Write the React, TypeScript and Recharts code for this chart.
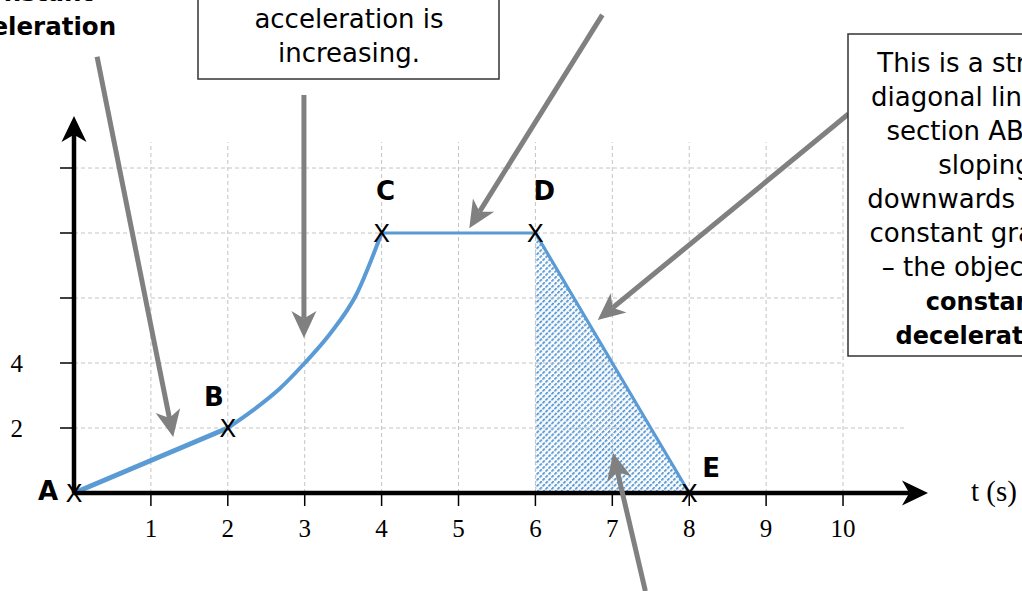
import { ComposedChart, Line, Area, XAxis, YAxis, ReferenceLine, ReferenceDot } from 'recharts'

// velocity-time graph, section by section
const abTimes = [0, 1, 2]
const abVelocity = [0, 1, 2]
const bcTimes = [2, 2.33, 2.67, 3, 3.33, 3.67, 4]
const bcVelocity = [2, 2.55, 3.2, 4.0, 4.9, 6.1, 8]
const cdeTimes = [4, 6, 8]
const cdeVelocity = [8, 8, 0]
const shadedTimes = [6, 8]
const shadedVelocity = [8, 0]

const xTicks = [1, 2, 3, 4, 5, 6, 7, 8, 9, 10]
const yTicks = [2, 4, 6, 8, 10]
const yTickLabels = ['2', '4', '', '', '']

const pointNames = ['A', 'B', 'C', 'D', 'E']
const pointTimes = [0, 2, 4, 6, 8]
const pointVelocity = [0, 2, 8, 8, 0]

// callout arrows, in axis units: [fromT, fromV, toT, toV]
const callouts = [
  [0.3, 13.42, 1.29, 1.72],
  [2.99, 12.25, 2.99, 4.77],
  [6.87, 14.71, 5.14, 8.15],
  [10.07, 11.66, 6.81, 5.32],
  [7.43, -3.02, 7.01, 1.23],
]

const X_MAX = 11.105
const Y_MAX = 11.6
const BLUE = '#5b9bd5'
const GREY = '#808080'
const SANS = '"DejaVu Sans", sans-serif'
const SERIF = '"Liberation Serif", "Times New Roman", serif'

const rows = new Map<number, any>()
const put = (ts: number[], vs: number[], key: string) =>
  ts.forEach((t, i) => {
    const r = rows.get(t) || { t }
    r[key] = vs[i]
    rows.set(t, r)
  })
put(abTimes, abVelocity, 'ab')
put(bcTimes, bcVelocity, 'bc')
put(cdeTimes, cdeVelocity, 'cde')
put(shadedTimes, shadedVelocity, 'shade')
const data = [...rows.values()].sort((a, b) => a.t - b.t)

const labelOffset: Record<string, [number, number]> = {
  A: [-26, 7],
  B: [-14, -22],
  C: [4, -33],
  D: [9, -33],
  E: [22, -16],
}

function arrow(p: any, color: string, width: number, len: number, half: number) {
  const { x1, y1, x2, y2 } = p
  const dx = x2 - x1
  const dy = y2 - y1
  const d = Math.hypot(dx, dy) || 1
  const ux = dx / d
  const uy = dy / d
  const bx = x2 - ux * len
  const by = y2 - uy * len
  const nx = x2 - ux * len * 0.72
  const ny = y2 - uy * len * 0.72
  const pts = [
    [x2, y2],
    [bx - uy * half, by + ux * half],
    [nx, ny],
    [bx + uy * half, by - ux * half],
  ]
  return (
    <g>
      <line x1={x1} y1={y1} x2={nx} y2={ny} stroke={color} strokeWidth={width} />
      <polygon points={pts.map((q) => q.join(',')).join(' ')} fill={color} />
    </g>
  )
}

function PointMark(p: any) {
  const { cx, cy, name } = p
  const [ox, oy] = labelOffset[name]
  return (
    <g>
      <text x={cx} y={cy + 9} textAnchor="middle" fontSize={25} fontFamily={SANS} fill="#000">
        X
      </text>
      <text x={cx + ox} y={cy + oy} textAnchor="middle" fontSize={26} fontWeight="bold" fontFamily={SANS} fill="#000">
        {name}
      </text>
    </g>
  )
}

const rightBox = [
  'This is a straight',
  'diagonal line, like',
  'section AB, but',
  'sloping',
  'downwards with a',
  'constant gradient',
  '– the object has',
]
const rightBoxBold = ['constant', 'deceleration.']
const topBox = ['The line is curving', 'acceleration is', 'increasing.']

export default function App() {
  return (
    <div style={{ position: 'relative', width: 1022, height: 591, overflow: 'hidden', background: '#fff' }}>
      <style>{'body{margin:0}'}</style>
      <svg width={0} height={0} style={{ position: 'absolute' }}>
        <defs>
          <pattern id="hatch" patternUnits="userSpaceOnUse" width={4.2} height={4.2} patternTransform="rotate(45)">
            <line x1={1} y1={0} x2={1} y2={4.2} stroke={BLUE} strokeWidth={1.9} strokeDasharray="2.4 0.9" />
          </pattern>
        </defs>
      </svg>
      <ComposedChart width={1022} height={591} data={data} margin={{ top: 116, right: 94, bottom: 68, left: 0 }}>
        <XAxis
          type="number"
          dataKey="t"
          domain={[0, X_MAX]}
          ticks={xTicks}
          axisLine={false}
          tickLine={{ stroke: '#000', strokeWidth: 1.5 }}
          tickSize={13}
          tickMargin={13}
          height={30}
          fontSize={25}
          tick={{ fontSize: 25, fontFamily: SERIF, fill: '#000' }}
        />
        <YAxis
          type="number"
          domain={[0, Y_MAX]}
          ticks={yTicks}
          width={74}
          axisLine={false}
          tickLine={{ stroke: '#000', strokeWidth: 1.5 }}
          tickSize={14}
          tickMargin={37}
          fontSize={25}
          tickFormatter={(v: number) => yTickLabels[yTicks.indexOf(v)] ?? ''}
          tick={{ fontSize: 25, fontFamily: SERIF, fill: '#000' }}
        />
        {xTicks.map((t) => (
          <ReferenceLine
            key={'gx' + t}
            segment={[{ x: t, y: 0 }, { x: t, y: 10.8 }]}
            stroke="#c4c4c4"
            strokeDasharray="4 3"
            ifOverflow="visible"
          />
        ))}
        {yTicks.map((v) => (
          <ReferenceLine
            key={'gy' + v}
            segment={[{ x: 0, y: v }, { x: v === 2 ? 10.8 : 10, y: v }]}
            stroke="#c4c4c4"
            strokeDasharray="4 3"
            ifOverflow="visible"
          />
        ))}
        <Area
          dataKey="shade"
          type="linear"
          stroke="none"
          fill="url(#hatch)"
          fillOpacity={1}
          isAnimationActive={false}
          dot={false}
          activeDot={false}
        />
        <Line dataKey="ab" type="linear" stroke={BLUE} strokeWidth={5} dot={false} activeDot={false} isAnimationActive={false} />
        <Line dataKey="bc" type="monotone" stroke={BLUE} strokeWidth={4} dot={false} activeDot={false} isAnimationActive={false} />
        <Line dataKey="cde" type="linear" stroke={BLUE} strokeWidth={3.2} dot={false} activeDot={false} isAnimationActive={false} />
        <ReferenceLine
          segment={[{ x: 0, y: 0 }, { x: X_MAX, y: 0 }]}
          ifOverflow="visible"
          shape={(p: any) => arrow(p, '#000', 4.5, 26, 12.5)}
        />
        <ReferenceLine
          segment={[{ x: 0, y: 0 }, { x: 0, y: Y_MAX }]}
          ifOverflow="visible"
          shape={(p: any) => arrow(p, '#000', 4.5, 26, 12.5)}
        />
        {pointNames.map((n, i) => (
          <ReferenceDot
            key={n}
            x={pointTimes[i]}
            y={pointVelocity[i]}
            ifOverflow="visible"
            shape={(p: any) => <PointMark {...p} name={n} />}
          />
        ))}
        {callouts.map((c, i) => (
          <ReferenceLine
            key={'c' + i}
            segment={[{ x: c[0], y: c[1] }, { x: c[2], y: c[3] }]}
            ifOverflow="visible"
            shape={(p: any) => arrow(p, GREY, 5, 27, 12.5)}
          />
        ))}
      </ComposedChart>
      <svg width={1022} height={591} style={{ position: 'absolute', left: 0, top: 0, pointerEvents: 'none' }}>
        <g fontFamily={SANS} fill="#000">
          <text x={31} y={1} textAnchor="middle" fontSize={24.5} fontWeight="bold">Constant</text>
          <text x={31} y={35} textAnchor="middle" fontSize={24.5} fontWeight="bold">acceleration</text>
          <rect x={198} y={-60} width={301} height={139} fill="#fff" stroke="#333" strokeWidth={1.5} />
          {topBox.map((s, i) => (
            <text key={s} x={349} y={-6 + i * 34} textAnchor="middle" fontSize={26}>
              {s}
            </text>
          ))}
          <rect x={848} y={34} width={300} height={322} fill="#fff" stroke="#333" strokeWidth={1.5} />
          {rightBox.map((s, i) => (
            <text key={s} x={985} y={72 + i * 34} textAnchor="middle" fontSize={26}>
              {s}
            </text>
          ))}
          {rightBoxBold.map((s, i) => (
            <text key={s} x={985} y={72 + (rightBox.length + i) * 34} textAnchor="middle" fontSize={24} fontWeight="bold">
              {s}
            </text>
          ))}
        </g>
        <text x={971} y={501} fontSize={29} fontFamily={SERIF} fill="#000">t (s)</text>
      </svg>
    </div>
  )
}
